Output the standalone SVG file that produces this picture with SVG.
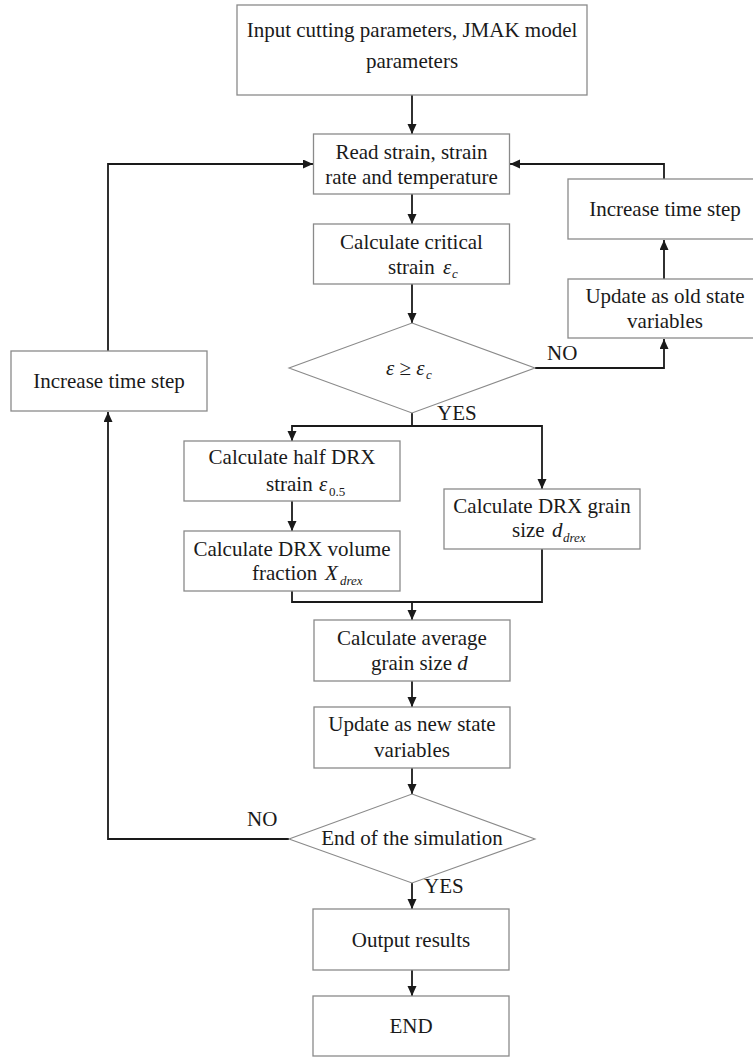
<svg xmlns="http://www.w3.org/2000/svg" width="753" height="1057" viewBox="0 0 753 1057">
<defs>
<style>
.box{fill:#fff;stroke:#8a8a8a;stroke-width:1.3}
.dia{fill:#fff;stroke:#8a8a8a;stroke-width:1.1}
.t{font-family:"Liberation Serif","Times New Roman",serif;font-size:21px;fill:#1a1a1a}
.c{text-anchor:middle}
.it{font-style:italic}
.sub{font-family:"Liberation Serif","Times New Roman",serif;font-size:13px;fill:#1a1a1a;font-style:italic}
.subn{font-family:"Liberation Serif","Times New Roman",serif;font-size:13px;fill:#1a1a1a}
.ln{fill:none;stroke:#1a1a1a;stroke-width:1.8}
</style>
<marker id="ah" markerUnits="userSpaceOnUse" markerWidth="10" markerHeight="10" refX="10" refY="4.5" orient="auto">
<path d="M0,0 L10,4.5 L0,9 z" fill="#1a1a1a"/>
</marker>
</defs>
<rect width="753" height="1057" fill="#fff"/>

<g id="connectors">
<line class="ln" x1="412" y1="95" x2="412" y2="134" marker-end="url(#ah)"/>
<line class="ln" x1="412" y1="194" x2="412" y2="224" marker-end="url(#ah)"/>
<line class="ln" x1="412" y1="284" x2="412" y2="323" marker-end="url(#ah)"/>
<polyline class="ln" points="535,368 664,368 664,339" marker-end="url(#ah)"/>
<line class="ln" x1="664" y1="279" x2="664" y2="240" marker-end="url(#ah)"/>
<polyline class="ln" points="664,179 664,164 510,164" marker-end="url(#ah)"/>
<polyline class="ln" points="108,351 108,164 313,164" marker-end="url(#ah)"/>
<polyline class="ln" points="289,839 108,839 108,412" marker-end="url(#ah)"/>
<polyline class="ln" points="412,413 412,426"/>
<polyline class="ln" points="292,426 542,426 542,489" marker-end="url(#ah)"/>
<line class="ln" x1="292" y1="425.1" x2="292" y2="441" marker-end="url(#ah)"/>
<line class="ln" x1="292" y1="501" x2="292" y2="531" marker-end="url(#ah)"/>
<polyline class="ln" points="292,591 292,602 542,602 542,549"/>
<line class="ln" x1="412" y1="602" x2="412" y2="620" marker-end="url(#ah)"/>
<line class="ln" x1="412" y1="681" x2="412" y2="707" marker-end="url(#ah)"/>
<line class="ln" x1="412" y1="768" x2="412" y2="794" marker-end="url(#ah)"/>
<line class="ln" x1="412" y1="883" x2="412" y2="909" marker-end="url(#ah)"/>
<line class="ln" x1="412" y1="970" x2="412" y2="996" marker-end="url(#ah)"/>
<text class="t" x="547" y="360">NO</text>
<text class="t" x="437" y="420">YES</text>
<text class="t" x="247" y="826">NO</text>
<text class="t" x="424" y="893">YES</text>
</g>

<g id="input">
<rect class="box" x="237" y="5" width="350" height="90"/>
<text class="t c" x="412" y="37">Input cutting parameters, JMAK model</text>
<text class="t c" x="412" y="68">parameters</text>
</g>

<g id="read">
<rect class="box" x="313.5" y="134" width="196" height="60"/>
<text class="t c" x="411.5" y="159">Read strain, strain</text>
<text class="t c" x="411.5" y="184">rate and temperature</text>
</g>

<g id="critical">
<rect class="box" x="313.5" y="224" width="196" height="60"/>
<text class="t c" x="411.5" y="249">Calculate critical</text>
<text class="t" x="388" y="274">strain</text>
<text class="t it" x="443" y="274">ε</text>
<text class="sub" x="452" y="278">c</text>
</g>

<g id="decision1">
<polygon class="dia" points="412,323 535,368 412,413 289,368"/>
<text class="t" x="386" y="375"><tspan class="it">ε</tspan> ≥ <tspan class="it">ε</tspan></text>
<text class="sub" x="426" y="379">c</text>
</g>

<g id="increase-right">
<rect class="box" x="568" y="179" width="194" height="60"/>
<text class="t c" x="665" y="216">Increase time step</text>
</g>

<g id="update-old">
<rect class="box" x="568" y="279" width="194" height="59"/>
<text class="t c" x="665" y="303">Update as old state</text>
<text class="t c" x="665" y="328">variables</text>
</g>

<g id="increase-left">
<rect class="box" x="11" y="351" width="196" height="60"/>
<text class="t c" x="109" y="388">Increase time step</text>
</g>

<g id="half-drx">
<rect class="box" x="184" y="441" width="216" height="60"/>
<text class="t c" x="292" y="464">Calculate half DRX</text>
<text class="t" x="266" y="491">strain</text>
<text class="t it" x="319" y="491">ε</text>
<text class="subn" x="329" y="496">0.5</text>
</g>

<g id="volume">
<rect class="box" x="184" y="531" width="216" height="60"/>
<text class="t c" x="292" y="556">Calculate DRX volume</text>
<text class="t" x="252" y="580">fraction</text>
<text class="t it" x="325" y="580">X</text>
<text class="sub" x="340" y="585">drex</text>
</g>

<g id="grain-drx">
<rect class="box" x="444" y="489" width="196" height="60"/>
<text class="t c" x="542" y="513">Calculate DRX grain</text>
<text class="t" x="512" y="537">size</text>
<text class="t it" x="552" y="537">d</text>
<text class="sub" x="563" y="542">drex</text>
</g>

<g id="average">
<rect class="box" x="314" y="620" width="196" height="61"/>
<text class="t c" x="412" y="645">Calculate average</text>
<text class="t" x="371" y="670">grain size <tspan class="it">d</tspan></text>
</g>

<g id="update-new">
<rect class="box" x="314" y="707" width="196" height="61"/>
<text class="t c" x="412" y="731">Update as new state</text>
<text class="t c" x="412" y="757">variables</text>
</g>

<g id="decision2">
<polygon class="dia" points="412,794 535,839 412,883 289,839"/>
<text class="t c" x="412" y="845">End of the simulation</text>
</g>

<g id="output">
<rect class="box" x="313" y="909" width="196" height="61"/>
<text class="t c" x="411" y="947">Output results</text>
</g>

<g id="end">
<rect class="box" x="313" y="996" width="196" height="60"/>
<text class="t c" x="411" y="1033">END</text>
</g>
</svg>
